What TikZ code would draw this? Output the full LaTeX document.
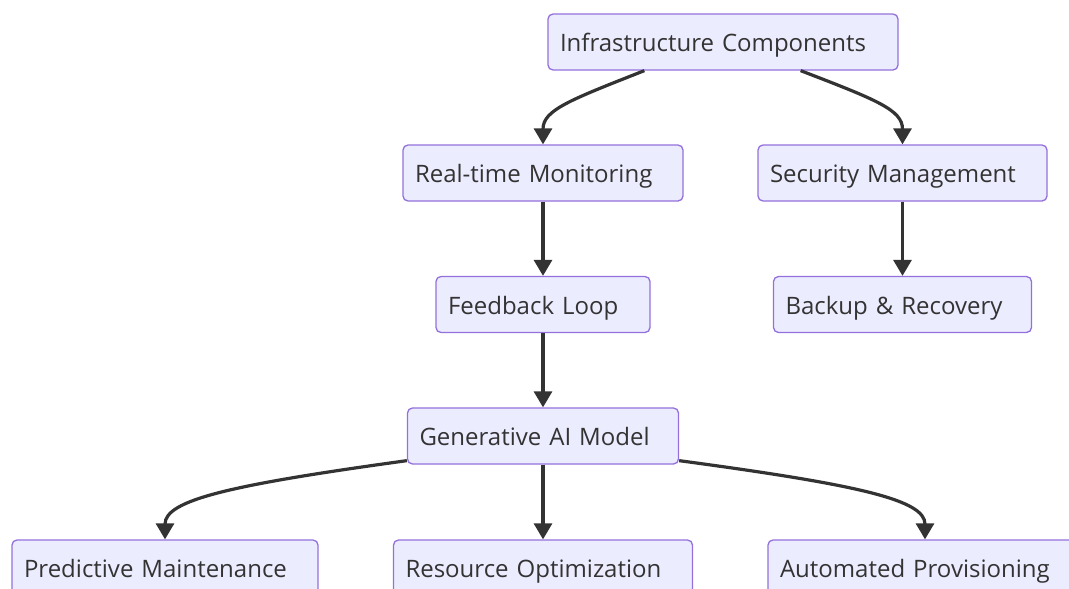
\documentclass[tikz,border=0pt]{standalone}
\usepackage{fontspec}
\setmainfont{Open Sans}
\usetikzlibrary{arrows.meta}
\definecolor{boxfill}{HTML}{ECECFF}
\definecolor{boxline}{HTML}{9370DB}
\definecolor{edgeline}{HTML}{333333}
\tikzstyle{box}=[rectangle, rounded corners=5pt, draw=boxline, fill=boxfill, line width=1.3pt, minimum height=56pt, inner xsep=12pt, align=left, text=edgeline, text height=21pt, text depth=1.6pt, font=\fontsize{24}{28}\selectfont]
\tikzstyle{flow}=[draw=edgeline, line width=3.2pt, -{Triangle[length=16pt,width=18pt]}]

\begin{document}
\begin{tikzpicture}[x=1pt, y=-1pt]
\useasboundingbox (0,0) rectangle (1069,589);
\clip (0,0) rectangle (1069,589);
\draw (723,42) node[box, text width=326pt] (Infra) {Infrastructure Components};
\draw (543,173) node[box, text width=256pt] (RTM) {Real-time Monitoring};
\draw (902.5,173) node[box, text width=265pt] (SEC) {Security Management};
\draw (543,304.5) node[box, text width=190pt] (FBL) {Feedback Loop};
\draw (902.5,304.5) node[box, text width=234pt] (BAK) {Backup \& Recovery};
\draw (543,436) node[box, text width=247pt] (GAI) {Generative AI Model};
\draw (165,568) node[box, text width=282pt] (PM) {Predictive Maintenance};
\draw (543,568) node[box, text width=275pt] (RO) {Resource Optimization};
\draw (925,568) node[box, text width=290pt] (AP) {Automated Provisioning};

\draw[flow] ([xshift=97pt]Infra.south west) .. controls (570,100) and (543,110) .. (RTM.north);
\draw[flow] ([xshift=-98pt]Infra.south east) .. controls (877,100) and (902.5,110) .. (SEC.north);
\draw[flow] (RTM) -- (FBL);
\draw[flow] (SEC) -- (BAK);
\draw[flow] (FBL) -- (GAI);
\draw[flow] ([yshift=4pt]GAI.south west) .. controls (230,485) and (165,500) .. (PM.north);
\draw[flow] (GAI) -- (RO);
\draw[flow] ([yshift=4pt]GAI.south east) .. controls (860,485) and (925,500) .. (AP.north);
\end{tikzpicture}
\end{document}
